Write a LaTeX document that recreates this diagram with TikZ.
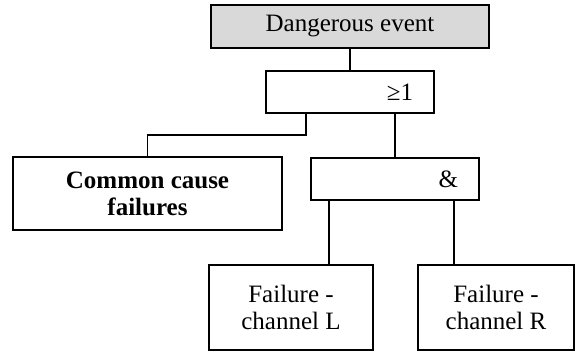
\documentclass[tikz,border=0pt]{standalone}
\usepackage{fontspec}
\setmainfont{Liberation Serif}
\usepackage{tikz}
\usetikzlibrary{positioning,calc}

\begin{document}
\begin{tikzpicture}[
  x=1pt, y=-1pt,
  font=\fontsize{25}{27}\selectfont,
  box/.style={draw, line width=1.5pt, fill=white, align=center, inner sep=0pt},
  gate/.style={box, inner xsep=21pt, text width=126pt, align=right, minimum height=42pt},
  conn/.style={line width=1.5pt},
]
\useasboundingbox (0,0) rectangle (575,353);
% Kopf und Gatter (Einheiten: pt, y nach unten)
\node[box, fill=black!15, minimum width=278pt, minimum height=43pt] (top) at (350,26.5) {Dangerous event};
\node[gate] (or) at (350,92) {≥1};
\node[box, font=\fontsize{25}{27}\selectfont\bfseries, minimum width=269pt, minimum height=73pt] (ccf) at (147.5,193.5) {Common cause\\failures};
\node[gate] (and) at (395,179) {\&};

% Ausfaelle der Kanaele
\node[box, minimum width=164pt, minimum height=85pt] (chL) at (291,307.5) {Failure -\\channel L};
\node[box, minimum width=156pt, minimum height=85pt] (chR) at (496,307.5) {Failure -\\channel R};

% Verbindungen
\draw[conn] (top.south) -- (or.north);
\coordinate (orsplit) at (306,135);
\draw[conn] (or.south -| orsplit) -- (orsplit) -| (ccf.north);
\draw[conn] (or.south -| and.north) -- (and.north);
\coordinate (andL) at (329,230);
\coordinate (andR) at (454,230);
\draw[conn] (and.south -| andL) -- (andL |- chL.north);
\draw[conn] (and.south -| andR) -- (andR |- chR.north);
\end{tikzpicture}
\end{document}
